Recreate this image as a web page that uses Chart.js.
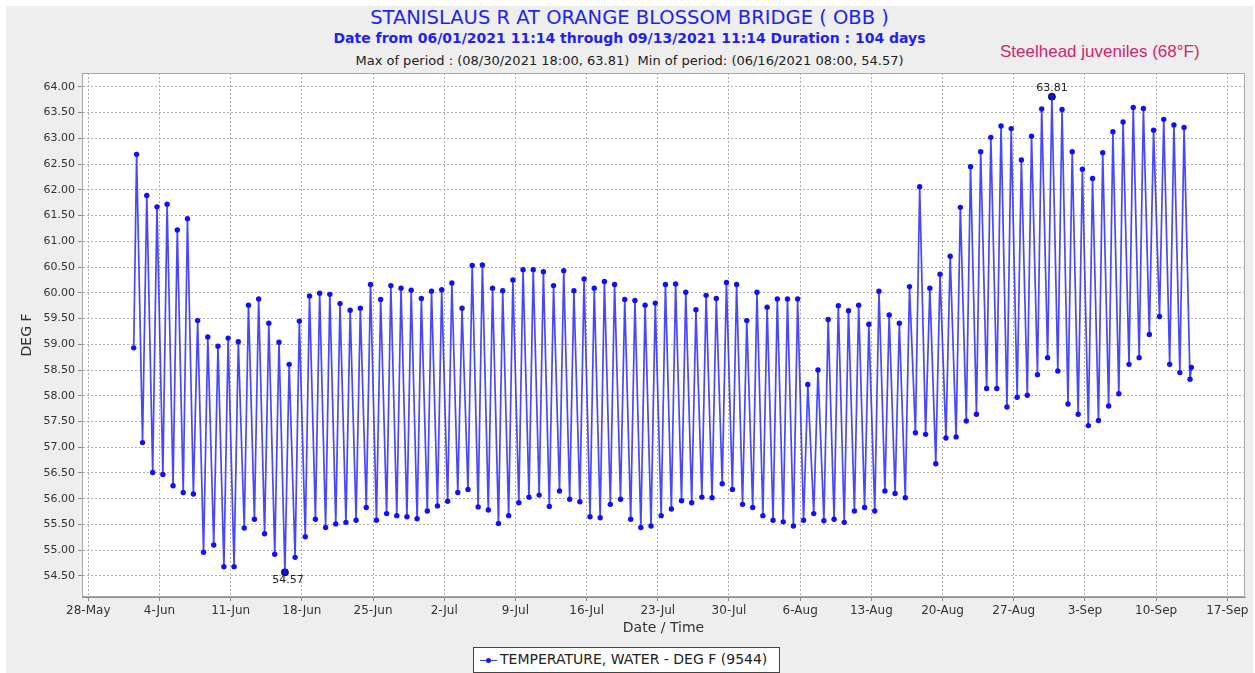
<!DOCTYPE html>
<html>
<head>
<meta charset="utf-8">
<script src="https://cdn.jsdelivr.net/npm/chart.js@4.4.0/dist/chart.umd.min.js"></script>
<style>
  html, body { margin: 0; padding: 0; background: #fff; }
  body { width: 1255px; height: 673px; position: relative; overflow: hidden; font-family: "DejaVu Sans", sans-serif; }
  #frame { position: absolute; left: 6px; top: 6px; width: 1247px; height: 667px; background: #eeeeee; }
  #chart { position: absolute; left: 0; top: 0; }
  .t { position: absolute; left: 6px; width: 1247px; text-align: center; white-space: nowrap; line-height: 1; }
  #title { top: 8px; font-size: 19.5px; color: #1e1eff; }
  #sub1 { top: 31px; font-size: 14px; font-weight: bold; color: #1e1eff; }
  #sub2 { top: 54px; font-size: 13px; color: #222; }
  #note { position: absolute; left: 1000px; top: 43px; font-family: "Liberation Sans", sans-serif; font-size: 17px; line-height: 1; color: #d4246c; white-space: nowrap; }
  #legend { position: absolute; left: 473px; top: 647px; width: 307px; height: 26px; box-sizing: border-box; border: 1px solid #444; background: #fff; }
  #legend .ln { position: absolute; left: 6px; top: 12px; width: 17px; height: 1px; background: #3c3cff; }
  #legend .dt { position: absolute; left: 12px; top: 10px; width: 5px; height: 5px; border-radius: 50%; background: #1414ff; }
  #legend .tx { position: absolute; left: 26px; top: 4px; font-size: 14px; line-height: 1; color: #222; white-space: nowrap; }
</style>
</head>
<body>
<div id="frame"></div>
<div class="t" id="title">STANISLAUS R AT ORANGE BLOSSOM BRIDGE ( OBB )</div>
<div class="t" id="sub1">Date from 06/01/2021 11:14 through 09/13/2021 11:14 Duration : 104 days</div>
<div class="t" id="sub2">Max of period : (08/30/2021 18:00, 63.81)&nbsp; Min of period: (06/16/2021 08:00, 54.57)</div>
<div id="note">Steelhead juveniles (68°F)</div>
<canvas id="chart" width="1255" height="673"></canvas>
<div id="legend"><div class="ln"></div><div class="dt"></div><div class="tx">TEMPERATURE, WATER - DEG F (9544)</div></div>
<script>
// day numbers count from 28-May-2021 00:00
const xTickDays = [0, 7, 14, 21, 28, 35, 42, 49, 56, 63, 70, 77, 84, 91, 98, 105, 112];
const xTickLabels = ['28-May', '4-Jun', '11-Jun', '18-Jun', '25-Jun', '2-Jul', '9-Jul', '16-Jul',
  '23-Jul', '30-Jul', '6-Aug', '13-Aug', '20-Aug', '27-Aug', '3-Sep', '10-Sep', '17-Sep'];
const yTickValues = [54.5, 55, 55.5, 56, 56.5, 57, 57.5, 58, 58.5, 59, 59.5, 60, 60.5, 61, 61.5, 62, 62.5, 63, 63.5, 64];

// first reading 06/01 11:14, last reading 09/13 11:14
const startTemp = 58.93;
const endTemp = 58.55;

// afternoon peak (about 18:00), 01-Jun .. 12-Sep
const dailyMax = [
  62.69, 61.89, 61.67, 61.72, 61.22, 61.44, 59.46, 59.14, 58.96, 59.12,
  59.05, 59.76, 59.88, 59.41, 59.04, 58.61, 59.45, 59.94, 59.99, 59.97,
  59.79, 59.66, 59.70, 60.16, 59.87, 60.14, 60.09, 60.05, 59.89, 60.03,
  60.06, 60.19, 59.70, 60.53, 60.54, 60.09, 60.04, 60.25, 60.45, 60.45,
  60.41, 60.14, 60.43, 60.04, 60.27, 60.09, 60.22, 60.16, 59.87, 59.85,
  59.76, 59.80, 60.16, 60.17, 60.01, 59.67, 59.95, 59.89, 60.20, 60.16,
  59.46, 60.01, 59.72, 59.88, 59.88, 59.88, 58.22, 58.50, 59.48, 59.75,
  59.65, 59.76, 59.39, 60.03, 59.57, 59.41, 60.12, 62.06, 60.09, 60.36,
  60.71, 61.66, 62.45, 62.74, 63.02, 63.24, 63.19, 62.58, 63.04, 63.57,
  63.81, 63.56, 62.74, 62.40, 62.22, 62.72, 63.13, 63.32, 63.60, 63.58,
  63.16, 63.37, 63.26, 63.21
];

// morning low (about 08:00), 02-Jun .. 13-Sep
const dailyMin = [
  57.09, 56.51, 56.47, 56.25, 56.12, 56.09, 54.96, 55.10, 54.68, 54.68,
  55.43, 55.60, 55.32, 54.92, 54.57, 54.86, 55.26, 55.60, 55.44, 55.51,
  55.54, 55.58, 55.83, 55.58, 55.71, 55.67, 55.65, 55.61, 55.76, 55.86,
  55.95, 56.12, 56.18, 55.84, 55.78, 55.52, 55.67, 55.92, 56.03, 56.07,
  55.85, 56.15, 55.99, 55.94, 55.65, 55.63, 55.89, 55.99, 55.60, 55.44,
  55.47, 55.67, 55.80, 55.96, 55.92, 56.03, 56.02, 56.29, 56.18, 55.89,
  55.83, 55.67, 55.58, 55.55, 55.47, 55.58, 55.71, 55.57, 55.60, 55.54,
  55.76, 55.83, 55.76, 56.15, 56.10, 56.02, 57.28, 57.25, 56.68, 57.18,
  57.20, 57.51, 57.64, 58.14, 58.14, 57.78, 57.97, 58.01, 58.41, 58.74,
  58.48, 57.84, 57.64, 57.42, 57.52, 57.80, 58.04, 58.61, 58.74, 59.19,
  59.54, 58.61, 58.45, 58.32
];

const firstDay = 4; // 1-Jun
const startHour = 11 + 14 / 60;
const maxHour = 18, minHour = 8;

const points = [{ x: firstDay + startHour / 24, y: startTemp }];
for (let i = 0; i < dailyMax.length; i++) {
  points.push({ x: firstDay + i + maxHour / 24, y: dailyMax[i] });
  points.push({ x: firstDay + i + 1 + minHour / 24, y: dailyMin[i] });
}
points.push({ x: firstDay + dailyMin.length + startHour / 24, y: endTemp });

const maxPt = points.reduce((a, b) => (b.y > a.y ? b : a));
const minPt = points.reduce((a, b) => (b.y < a.y ? b : a));

const plotFrame = {
  id: 'plotFrame',
  beforeDraw(chart) {
    const { ctx, chartArea: a } = chart;
    ctx.save();
    ctx.fillStyle = '#ffffff';
    ctx.fillRect(a.left, a.top, a.width, a.height);
    ctx.restore();
  },
  afterDraw(chart) {
    const { ctx, chartArea: a } = chart;
    ctx.save();
    ctx.strokeStyle = '#a8a8a8';
    ctx.lineWidth = 1;
    ctx.strokeRect(a.left + 0.5, a.top + 0.5, a.width - 1, a.height - 1);
    ctx.restore();
  }
};

const extremeLabels = {
  id: 'extremeLabels',
  afterDatasetsDraw(chart) {
    const { ctx, scales: { x, y } } = chart;
    ctx.save();
    ctx.font = '11px "DejaVu Sans"';
    ctx.fillStyle = '#222';
    ctx.textAlign = 'center';
    ctx.textBaseline = 'bottom';
    ctx.fillText(maxPt.y.toFixed(2), x.getPixelForValue(maxPt.x), y.getPixelForValue(maxPt.y) - 3);
    ctx.textBaseline = 'top';
    ctx.fillText(minPt.y.toFixed(2), x.getPixelForValue(minPt.x) + 3, y.getPixelForValue(minPt.y) + 2);
    ctx.restore();
  }
};

const gridOpts = { color: '#b0b0b0', lineWidth: 1, tickLength: 4, tickColor: '#8a8a8a' };
const tickFont = { family: 'DejaVu Sans', size: 11 };

new Chart(document.getElementById('chart'), {
  type: 'line',
  data: {
    datasets: [
      {
        label: 'TEMPERATURE, WATER - DEG F (9544)',
        data: points,
        borderColor: 'rgba(40,40,255,0.85)',
        borderWidth: 1.7,
        pointRadius: 2.7,
        pointBackgroundColor: '#1010ff',
        pointBorderColor: '#1010ff',
        pointBorderWidth: 0,
        tension: 0
      },
      {
        label: 'extremes',
        data: [maxPt, minPt],
        showLine: false,
        pointRadius: 3.5,
        pointBackgroundColor: '#111',
        pointBorderColor: '#111'
      }
    ]
  },
  options: {
    responsive: false,
    animation: false,
    devicePixelRatio: 1,
    layout: { padding: { top: 73, right: 10, bottom: 31, left: 0 } },
    plugins: { legend: { display: false }, tooltip: { enabled: false } },
    scales: {
      x: {
        type: 'linear',
        min: -0.62,
        max: 113.74,
        afterBuildTicks: s => { s.ticks = xTickDays.map(v => ({ value: v })); },
        afterFit: s => { s.height = 45; },
        ticks: {
          autoSkip: false,
          maxRotation: 0,
          padding: 3,
          color: '#333',
          font: { family: 'DejaVu Sans', size: 12 },
          callback: v => xTickLabels[xTickDays.indexOf(v)]
        },
        grid: gridOpts,
        border: { display: true, color: '#8c8c8c', dash: [2, 2] },
        title: {
          display: true,
          text: 'Date / Time',
          color: '#333',
          font: { family: 'DejaVu Sans', size: 14 },
          padding: { top: 0, bottom: 5 }
        }
      },
      y: {
        min: 54.09,
        max: 64.27,
        afterBuildTicks: s => { s.ticks = yTickValues.map(v => ({ value: v })); },
        afterFit: s => { s.width = 82; },
        ticks: {
          padding: 3,
          color: '#333',
          font: tickFont,
          callback: v => v.toFixed(2)
        },
        grid: gridOpts,
        border: { display: true, color: '#8c8c8c', dash: [2, 2] },
        title: {
          display: true,
          text: 'DEG F',
          color: '#333',
          font: { family: 'DejaVu Sans', size: 14 },
          padding: { top: 19, bottom: 0 }
        }
      }
    }
  },
  plugins: [plotFrame, extremeLabels]
});
</script>
</body>
</html>
